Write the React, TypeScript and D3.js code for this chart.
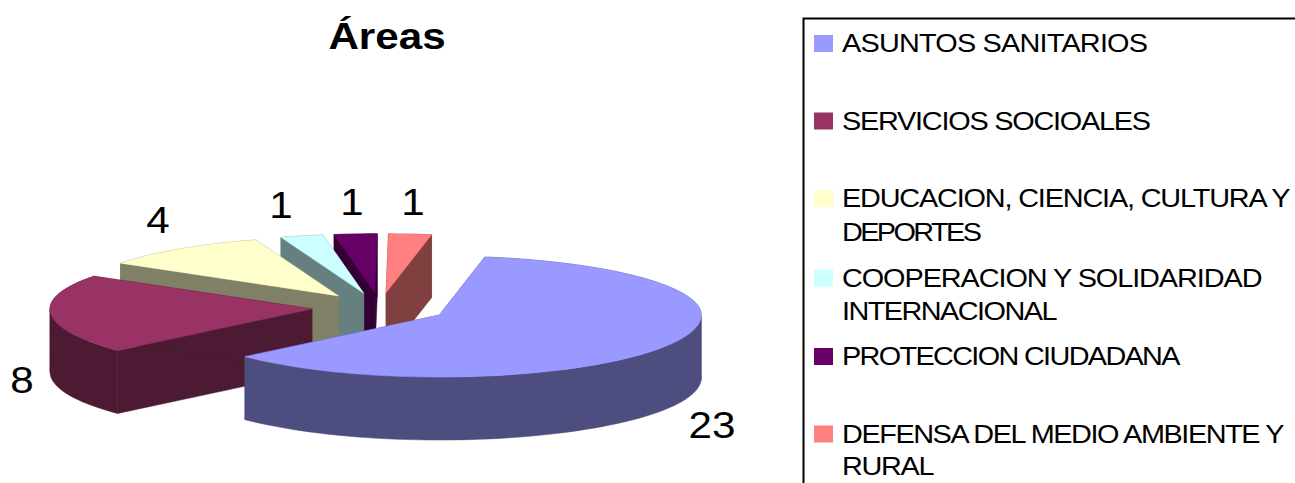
import React from "react";
import * as d3 from "d3";

const categories = [
  "ASUNTOS SANITARIOS",
  "SERVICIOS SOCIOALES",
  "EDUCACION, CIENCIA, CULTURA Y DEPORTES",
  "COOPERACION Y SOLIDARIDAD INTERNACIONAL",
  "PROTECCION CIUDADANA",
  "DEFENSA DEL MEDIO AMBIENTE Y RURAL",
];
const values = [23, 8, 4, 1, 1, 1];
const colors = ["#9999ff", "#993366", "#ffffcc", "#ccffff", "#660066", "#ff8080"];
const legendLines = [
  ["ASUNTOS SANITARIOS"],
  ["SERVICIOS SOCIOALES"],
  ["EDUCACION, CIENCIA, CULTURA Y", "DEPORTES"],
  ["COOPERACION Y SOLIDARIDAD", "INTERNACIONAL"],
  ["PROTECCION CIUDADANA"],
  ["DEFENSA DEL MEDIO AMBIENTE Y", "RURAL"],
];

// Layout only
const W = 1295, H = 483;
const cx = 379.8, cy = 307.8, rx = 262, ryBack = 59, ryFront = 62, depth = 63;
const explodeX = 68, explodeY = 15;
const startDeg = 10;
const stretch = 1.14;
const labelPos = [[712, 438], [22, 393], [158, 233], [281, 218], [352, 215], [413, 215]];
const legendRowY = [44, 121.5, 199, 278.5, 357, 434.5];
const legendLineWidths = [[306], [309], [448.5, 140], [420.5, 215.5], [338.5], [442.5, 92.5]];
const legendBaselines = [[52], [129.5], [207, 240.5], [286.5, 320], [365], [442.5, 475]];

const half = (c: string) => {
  const r = d3.rgb(c);
  return d3.rgb(r.r / 2, r.g / 2, r.b / 2).formatHex();
};

export default function App() {
  const rad = (startDeg * Math.PI) / 180;
  const arcs = d3.pie<number>().sort(null).startAngle(rad).endAngle(rad + 2 * Math.PI)(values);
  const color = d3.scaleOrdinal<number, string>().domain(d3.range(values.length)).range(colors);
  const toX = d3.scaleLinear().domain([-1, 1]).range([-rx, rx]);
  const line = d3.line<[number, number]>().x((d) => d[0]).y((d) => d[1]);

  const slices = arcs.map((a, i) => {
    const mid = (a.startAngle + a.endAngle) / 2;
    const ax = cx + Math.sin(mid) * explodeX;
    const ay = cy - Math.cos(mid) * explodeY;
    const pt = (t: number): [number, number] => {
      const c = -Math.cos(t);
      return [ax + toX(Math.sin(t)), ay + c * (c > 0 ? ryFront : ryBack)];
    };
    const n = Math.max(4, Math.ceil((a.endAngle - a.startAngle) / 0.04));
    const angles = d3.range(n + 1).map((k) => a.startAngle + ((a.endAngle - a.startAngle) * k) / n);
    const rim = angles.map(pt);
    const down = (p: [number, number]): [number, number] => [p[0], p[1] + depth];
    const apex: [number, number] = [ax, ay];
    const top = line([apex, ...rim]) + "Z";

    // Split the rim into runs that move one way in x, so each wall is one simple polygon.
    const runs: [number, number][][] = [];
    let run: [number, number][] = [rim[0]];
    let side = Math.cos(angles[0] + 1e-6) > 0;
    angles.slice(1).forEach((t, k) => {
      const s = Math.cos(t) > 0;
      run.push(rim[k + 1]);
      if (s !== side) {
        runs.push(run);
        run = [rim[k + 1]];
        side = s;
      }
    });
    runs.push(run);
    const rimWalls = runs.map((r) => line([...r, ...r.slice().reverse().map(down)]) + "Z");

    const first = rim[0], last = rim[rim.length - 1];
    const cut1 = line([apex, first, down(first), down(apex)]) + "Z";
    const cut2 = line([apex, last, down(last), down(apex)]) + "Z";
    return { i, top, walls: [cut1, cut2, ...rimWalls] };
  });

  return (
    <svg
      width={W}
      height={H}
      viewBox={`0 0 ${W} ${H}`}
      style={{ position: "fixed", left: 0, top: 0, background: "#fff" }}
      fontFamily="'Liberation Sans', Arial, sans-serif"
    >
      <text
        transform={`translate(387,48.5) scale(${stretch},1)`}
        textAnchor="middle"
        fontSize={37}
        fontWeight="bold"
        fill="#000"
      >
        Áreas
      </text>

      {slices.slice().reverse().map((s) => {
        const wall = half(color(s.i));
        return (
          <g key={s.i}>
            {s.walls.map((d, k) => (
              <path key={k} d={d} fill={wall} stroke={wall} strokeWidth={0.5} strokeLinejoin="round" />
            ))}
            <path d={s.top} fill={color(s.i)} stroke={color(s.i)} strokeWidth={0.5} strokeLinejoin="round" />
          </g>
        );
      })}

      {values.map((v, i) => (
        <text
          key={i}
          transform={`translate(${labelPos[i][0]},${labelPos[i][1]}) scale(${stretch},1)`}
          textAnchor="middle"
          fontSize={37}
          fill="#000"
        >
          {v}
        </text>
      ))}

      <rect x={803.5} y={18.5} width={W} height={H} fill="#fff" stroke="#000" strokeWidth={2} />
      {categories.map((c, i) => (
        <g key={c}>
          <rect x={814} y={legendRowY[i] - 9} width={19} height={17} fill={color(i)} />
          {legendLines[i].map((l, j) => (
            <text
              key={j}
              transform={`translate(842,${legendBaselines[i][j]}) scale(${stretch},1)`}
              fontSize={25.3}
              fill="#000"
              textLength={legendLineWidths[i][j] / stretch}
              lengthAdjust="spacing"
            >
              {l}
            </text>
          ))}
        </g>
      ))}
    </svg>
  );
}
